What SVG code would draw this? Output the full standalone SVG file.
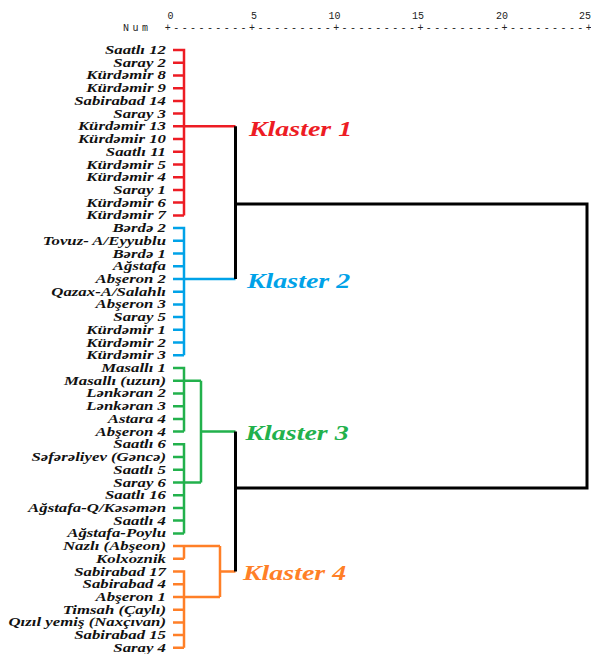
<svg xmlns="http://www.w3.org/2000/svg" width="591" height="654" viewBox="0 0 591 654">
<style>
.ax{font-family:"Liberation Mono","Courier New",monospace;font-size:10px;fill:#222}
.lbl{font-family:"Liberation Serif","Times New Roman",serif;font-weight:bold;font-style:italic;font-size:12px;text-anchor:end;fill:#111}
.kl{font-family:"Liberation Serif","Times New Roman",serif;font-weight:bold;font-style:italic;font-size:21px}
.ln{fill:none;stroke-width:2.5;stroke-linecap:butt;stroke-linejoin:miter}
.r{stroke:#ED1C24}.b{stroke:#00A2E8}.g{stroke:#22B14C}.o{stroke:#FF7F27}.k{stroke:#000;stroke-width:3}
</style>
<g id="axis">
<text class="ax" x="123" y="31" textLength="25" lengthAdjust="spacing">Num</text>
<text class="ax" x="164.8" y="31" textLength="427" lengthAdjust="spacing">+---------+---------+---------+---------+---------+</text>
<g style="text-anchor:end">
<text class="ax" x="173.5" y="19">0</text>
<text class="ax" x="257" y="19">5</text>
<text class="ax" x="340.5" y="19">10</text>
<text class="ax" x="424" y="19">15</text>
<text class="ax" x="508" y="19">20</text>
<text class="ax" x="591" y="19">25</text>
</g>
</g>
<g id="connectors">
<path class="ln r" d="M173 50H184V215.4M173 62.7H184M173 75.4H184M173 88.2H184M173 100.9H184M173 113.6H184M173 126.3H235.5M173 139H184M173 151.8H184M173 164.5H184M173 177.2H184M173 189.9H184M173 202.6H184M173 215.4H184"/>
<path class="ln b" d="M173 228.1H184V355.3M173 240.8H184M173 253.5H184M173 266.2H184M173 279H235.5M173 291.7H184M173 304.4H184M173 317.1H184M173 329.8H184M173 342.6H184M173 355.3H184"/>
<path class="ln g" d="M173 368H184V431.6M173 380.7H201M173 393.4H184M173 406.2H184M173 418.9H184M173 431.6H184M173 444.3H184V533.4M173 457H184M173 469.8H184M173 482.5H201M173 495.2H184M173 507.9H184M173 520.6H184M173 533.4H184M201 380.7V482.5M201 431.6H235.5"/>
<path class="ln o" d="M173 546.1H220M184 546.1V558.8M173 558.8H184M173 571.5H184V647.8M173 584.2H184M173 597H220M173 609.7H184M173 622.4H184M173 635.1H184M173 647.8H184M220 546.1V597M220 571.5H235.5"/>
<path class="ln k" d="M235.5 126.3V279M235.5 204H587V488H235.5M235.5 431.6V571.5"/>
</g>
<g id="cluster1-leaves">
<text class="lbl" transform="translate(166 54) scale(1.4 1)">Saatlı 12</text>
<text class="lbl" transform="translate(166 66.7) scale(1.4 1)">Saray 2</text>
<text class="lbl" transform="translate(166 79.4) scale(1.4 1)">Kürdəmir 8</text>
<text class="lbl" transform="translate(166 92.2) scale(1.4 1)">Kürdəmir 9</text>
<text class="lbl" transform="translate(166 104.9) scale(1.4 1)">Sabirabad 14</text>
<text class="lbl" transform="translate(166 117.6) scale(1.4 1)">Saray 3</text>
<text class="lbl" transform="translate(166 130.3) scale(1.4 1)">Kürdəmir 13</text>
<text class="lbl" transform="translate(166 143) scale(1.4 1)">Kürdəmir 10</text>
<text class="lbl" transform="translate(166 155.8) scale(1.4 1)">Saatlı 11</text>
<text class="lbl" transform="translate(166 168.5) scale(1.4 1)">Kürdəmir 5</text>
<text class="lbl" transform="translate(166 181.2) scale(1.4 1)">Kürdəmir 4</text>
<text class="lbl" transform="translate(166 193.9) scale(1.4 1)">Saray 1</text>
<text class="lbl" transform="translate(166 206.6) scale(1.4 1)">Kürdəmir 6</text>
<text class="lbl" transform="translate(166 219.4) scale(1.4 1)">Kürdəmir 7</text>
</g>
<g id="cluster2-leaves">
<text class="lbl" transform="translate(166 232.1) scale(1.4 1)">Bərdə 2</text>
<text class="lbl" transform="translate(166 244.8) scale(1.4 1)">Tovuz- A/Eyyublu</text>
<text class="lbl" transform="translate(166 257.5) scale(1.4 1)">Bərdə 1</text>
<text class="lbl" transform="translate(166 270.2) scale(1.4 1)">Ağstafa</text>
<text class="lbl" transform="translate(166 283) scale(1.4 1)">Abşeron 2</text>
<text class="lbl" transform="translate(166 295.7) scale(1.4 1)">Qazax-A/Salahlı</text>
<text class="lbl" transform="translate(166 308.4) scale(1.4 1)">Abşeron 3</text>
<text class="lbl" transform="translate(166 321.1) scale(1.4 1)">Saray 5</text>
<text class="lbl" transform="translate(166 333.8) scale(1.4 1)">Kürdəmir 1</text>
<text class="lbl" transform="translate(166 346.6) scale(1.4 1)">Kürdəmir 2</text>
<text class="lbl" transform="translate(166 359.3) scale(1.4 1)">Kürdəmir 3</text>
</g>
<g id="cluster3-leaves">
<text class="lbl" transform="translate(166 372) scale(1.4 1)">Masallı 1</text>
<text class="lbl" transform="translate(166 384.7) scale(1.4 1)">Masallı (uzun)</text>
<text class="lbl" transform="translate(166 397.4) scale(1.4 1)">Lənkəran 2</text>
<text class="lbl" transform="translate(166 410.2) scale(1.4 1)">Lənkəran 3</text>
<text class="lbl" transform="translate(166 422.9) scale(1.4 1)">Astara 4</text>
<text class="lbl" transform="translate(166 435.6) scale(1.4 1)">Abşeron 4</text>
<text class="lbl" transform="translate(166 448.3) scale(1.4 1)">Saatlı 6</text>
<text class="lbl" transform="translate(166 461) scale(1.4 1)">Səfərəliyev (Gəncə)</text>
<text class="lbl" transform="translate(166 473.8) scale(1.4 1)">Saatlı 5</text>
<text class="lbl" transform="translate(166 486.5) scale(1.4 1)">Saray 6</text>
<text class="lbl" transform="translate(166 499.2) scale(1.4 1)">Saatlı 16</text>
<text class="lbl" transform="translate(166 511.9) scale(1.4 1)">Ağstafa-Q/Kəsəmən</text>
<text class="lbl" transform="translate(166 524.6) scale(1.4 1)">Saatlı 4</text>
<text class="lbl" transform="translate(166 537.4) scale(1.4 1)">Ağstafa-Poylu</text>
</g>
<g id="cluster4-leaves">
<text class="lbl" transform="translate(166 550.1) scale(1.4 1)">Nazlı (Abşeon)</text>
<text class="lbl" transform="translate(166 562.8) scale(1.4 1)">Kolxoznik</text>
<text class="lbl" transform="translate(166 575.5) scale(1.4 1)">Sabirabad 17</text>
<text class="lbl" transform="translate(166 588.2) scale(1.4 1)">Sabirabad 4</text>
<text class="lbl" transform="translate(166 601) scale(1.4 1)">Abşeron 1</text>
<text class="lbl" transform="translate(166 613.7) scale(1.4 1)">Timsah (Çaylı)</text>
<text class="lbl" transform="translate(166 626.4) scale(1.4 1)">Qızıl yemiş (Naxçıvan)</text>
<text class="lbl" transform="translate(166 639.1) scale(1.4 1)">Sabirabad 15</text>
<text class="lbl" transform="translate(166 651.8) scale(1.4 1)">Saray 4</text>
</g>
<g id="klaster1"><text class="kl" fill="#ED1C24" transform="translate(249 136) scale(1.33 1)">Klaster 1</text></g>
<g id="klaster2"><text class="kl" fill="#00A2E8" transform="translate(247 288) scale(1.33 1)">Klaster 2</text></g>
<g id="klaster3"><text class="kl" fill="#22B14C" transform="translate(245.5 439.5) scale(1.33 1)">Klaster 3</text></g>
<g id="klaster4"><text class="kl" fill="#FF7F27" transform="translate(243 580) scale(1.33 1)">Klaster 4</text></g>
</svg>
